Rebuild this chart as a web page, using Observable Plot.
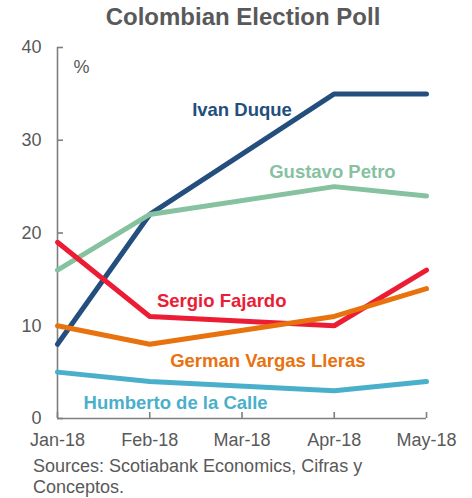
<!DOCTYPE html>
<html>
<head>
<meta charset="utf-8">
<script src="https://cdn.jsdelivr.net/npm/d3@7"></script>
<script src="https://cdn.jsdelivr.net/npm/@observablehq/plot@0.6"></script>
<style>
  body { margin: 0; background: #fff; font-family: "Liberation Sans", Arial, sans-serif; }
  #title { height: 34px; line-height: 34px; font-size: 24px; font-weight: bold; color: #595959; text-align: center; padding-left: 14px; width: 458px; }
  #caption { margin-top: 6px; padding-left: 33px; width: 400px; font-size: 18px; line-height: 21px; color: #595959; }
  svg { display: block; }
</style>
</head>
<body>
<div id="title">Colombian Election Poll</div>
<div id="chart"></div>
<div id="caption">Sources: Scotiabank Economics, Cifras y Conceptos.</div>
<script>
const months = ["Jan-18", "Feb-18", "Mar-18", "Apr-18", "May-18"];
const pollMonths = [0, 1, 3, 4];           // indexes into months (no March poll)
const duque   = [8, 22, 35, 35];
const petro   = [16, 22, 25, 24];
const fajardo = [19, 11, 10, 16];
const vargas  = [10, 8, 11, 14];
const calle   = [5, 4, 3, 4];
const yTicks = [0, 10, 20, 30, 40];

const candidates = ["Ivan Duque", "Gustavo Petro", "Sergio Fajardo", "German Vargas Lleras", "Humberto de la Calle"];
const seriesValues = [duque, petro, fajardo, vargas, calle];
const colors = ["#234e7d", "#86c29f", "#ec1c35", "#e8720e", "#4aafca"];
// label anchor points (month index, percent)
const labelMonth = [2.0, 2.98, 1.78, 2.28, 1.28];
const labelValue = [33.2, 26.6, 12.65, 6.15, 1.65];

const rows = [];
candidates.forEach((name, i) => {
  seriesValues[i].forEach((v, j) => rows.push({name, m: pollMonths[j], v}));
});
const labels = candidates.map((name, i) => ({name, m: labelMonth[i], v: labelValue[i]}));

const W = 472, H = 416, mt = 13, mb = 32, ml = 57, mr = 46;
const axisColor = "#7f7f7f";
const textColor = "#595959";

const plot = Plot.plot({
  width: W, height: H,
  marginTop: mt, marginBottom: mb, marginLeft: ml, marginRight: mr,
  style: { fontFamily: "Liberation Sans, Arial, sans-serif", fontSize: "18px", color: textColor, background: "#fff", overflow: "visible" },
  x: { type: "linear", domain: [0, 4], ticks: [0, 1, 2, 3, 4], tickFormat: i => months[i], tickSize: 0, tickPadding: 15, label: null },
  y: { domain: [0, 40], ticks: yTicks, tickSize: 0, tickPadding: 16, label: null },
  color: { domain: candidates, range: colors },
  marks: [
    Plot.ruleX([0], { stroke: axisColor, strokeWidth: 1.6 }),
    Plot.ruleY([0], { stroke: axisColor, strokeWidth: 1.6 }),
    Plot.tickY(yTicks, { y: d => d, stroke: axisColor, strokeWidth: 1.6, insetRight: (W - ml - mr) - 6 }),
    Plot.tickX([0, 1, 2, 3, 4], { x: d => d, stroke: axisColor, strokeWidth: 1.6, insetTop: (H - mt - mb) - 6 }),
    ...candidates.map((name, i) => Plot.line(rows.filter(r => r.name === name), {
      x: "m", y: "v", stroke: colors[i], strokeWidth: 5, strokeLinecap: "round", strokeLinejoin: "miter"
    })),
    Plot.text(labels, { x: "m", y: "v", text: "name", fill: "name", fontWeight: "bold", fontSize: 18.5 }),
    Plot.text(["%"], { frameAnchor: "top-left", text: d => d, dx: 16, dy: 13, textAnchor: "start", fill: textColor, fontSize: 18 })
  ]
});
document.getElementById("chart").appendChild(plot);
</script>
</body>
</html>
